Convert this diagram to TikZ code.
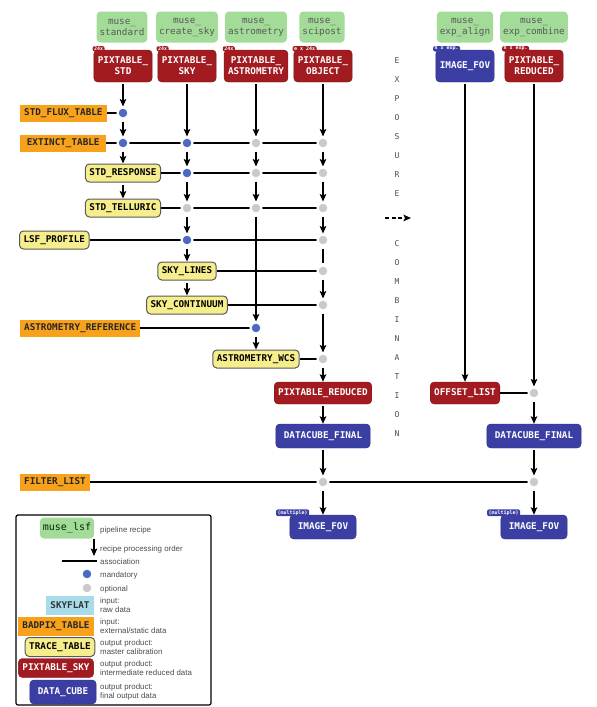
\documentclass[tikz,border=0pt]{standalone}
\usepackage{fontspec}
\setmainfont{Liberation Sans}
\setmonofont{DejaVu Sans Mono}
\usetikzlibrary{arrows.meta,backgrounds}

\begin{document}
\begin{tikzpicture}[x=1pt,y=-1pt,
  box/.style={rounded corners=4pt,font=\fontsize{9.3}{11}\selectfont\ttfamily\bfseries,align=center,inner xsep=4pt,inner ysep=2pt},
  recipe/.style={box,fill=recgreen,text=black!65,font=\fontsize{9.3}{11}\selectfont\ttfamily,inner xsep=3pt,minimum height=31pt},
  extin/.style={box,rounded corners=0pt,fill=extorange,text=black!85,minimum height=17pt},
  rawin/.style={box,rounded corners=0pt,fill=rawblue,text=black!80,minimum height=19pt},
  calib/.style={box,fill=calyellow,draw=black!65,line width=1pt,minimum height=18pt},
  interm/.style={box,fill=intred,draw=intred!75!black,text=white,minimum height=22pt},
  final/.style={box,fill=finblue,draw=finblue!75!black,text=white,inner xsep=8pt,minimum height=24pt},
  toprow/.style={minimum height=32pt,minimum width=58pt},
  tag/.style={rounded corners=2pt,font=\fontsize{5}{5}\selectfont\ttfamily\bfseries,text=white,inner xsep=1.5pt,inner ysep=0.8pt},
  mand/.style={circle,fill=dotblue,draw=white,line width=2pt,minimum size=11pt,inner sep=0pt},
  opt/.style={circle,fill=dotgray,draw=white,line width=2pt,minimum size=11pt,inner sep=0pt},
  flow/.style={line width=1.3pt,shorten <=2pt,-{Stealth[length=7.5pt,width=6.5pt,inset=1.5pt]}},
  assoc/.style={line width=1.3pt},
  letter/.style={font=\fontsize{8}{8}\selectfont\ttfamily,text=black!70},
  note/.style={font=\fontsize{7.9}{9}\selectfont,text=black!70,anchor=west,align=left,inner sep=0pt}]
  \definecolor{recgreen}{HTML}{A3DB98}
  \definecolor{intred}{HTML}{A11B20}
  \definecolor{finblue}{HTML}{3B3FA4}
  \definecolor{extorange}{HTML}{F8A21C}
  \definecolor{calyellow}{HTML}{F6EE8C}
  \definecolor{rawblue}{HTML}{A8DCEB}
  \definecolor{dotblue}{HTML}{4E69C2}
  \definecolor{dotgray}{HTML}{CACACA}
  \useasboundingbox (0,0) rectangle (597,707);

  % recipes
  \node[recipe] (rstd) at (122,27) {muse\_\\standard};
  \node[recipe] (rsky) at (187,27) {muse\_\\create\_sky};
  \node[recipe] (rastro) at (256,27) {muse\_\\astrometry};
  \node[recipe] (rsci) at (322,27) {muse\_\\scipost};
  \node[recipe] (ralign) at (465,27) {muse\_\\exp\_align};
  \node[recipe] (rcomb) at (534,27) {muse\_\\exp\_combine};

  % pixel tables going in
  \node[interm,toprow] (pstd) at (123,66) {PIXTABLE\_\\STD};
  \node[interm,toprow] (psky) at (187,66) {PIXTABLE\_\\SKY};
  \node[interm,toprow] (pastro) at (256,66) {PIXTABLE\_\\ASTROMETRY};
  \node[interm,toprow] (pobj) at (323,66) {PIXTABLE\_\\OBJECT};
  \node[final,toprow,inner xsep=4pt] (pfov) at (465,66) {IMAGE\_FOV};
  \node[interm,toprow] (pred) at (534,66) {PIXTABLE\_\\REDUCED};
  \node[tag,fill=intred] (tstd) at ([shift={(5,-1)}]pstd.north west) {24x};
  \node[tag,fill=intred] (tsky) at ([shift={(5,-1)}]psky.north west) {24x};
  \node[tag,fill=intred] (tastro) at ([shift={(5,-1)}]pastro.north west) {24x};
  \node[tag,fill=intred] (tobj) at ([shift={(11,-1)}]pobj.north west) {e x 24x};
  \node[tag,fill=finblue] (tfov) at ([shift={(11,-1)}]pfov.north west) {n x exp.};
  \node[tag,fill=intred] (tred) at ([shift={(11,-1)}]pred.north west) {n x exp.};

  % calibrations and inputs
  \node[extin,anchor=west,minimum width=86pt] (fluxtab) at (20,113) {STD\_FLUX\_TABLE};
  \node[extin,anchor=west,minimum width=86pt] (extinct) at (20,143) {EXTINCT\_TABLE};
  \node[calib] (response) at (123,173) {STD\_RESPONSE};
  \node[calib,minimum width=75pt] (telluric) at (123,208) {STD\_TELLURIC};
  \node[calib,anchor=west] (lsf) at (19,240) {LSF\_PROFILE};
  \node[calib] (skylines) at (187,271) {SKY\_LINES};
  \node[calib] (skycont) at (187,305) {SKY\_CONTINUUM};
  \node[extin,anchor=west] (astref) at (20,328) {ASTROMETRY\_REFERENCE};
  \node[calib] (wcs) at (256,359) {ASTROMETRY\_WCS};
  \node[interm] (pixred) at (323,393) {PIXTABLE\_REDUCED};
  \node[final] (cube) at (323,436) {DATACUBE\_FINAL};
  \node[extin,anchor=west] (filter) at (20,482) {FILTER\_LIST};
  \node[final] (fov) at (323,527) {IMAGE\_FOV};
  \node[tag,fill=finblue] (tfov2) at ([shift={(3,-2)}]fov.north west) {(multiple)};
  \node[interm] (offset) at (465,393) {OFFSET\_LIST};
  \node[final] (cube2) at (534,436) {DATACUBE\_FINAL};
  \node[final] (fov2) at (534,527) {IMAGE\_FOV};
  \node[tag,fill=finblue] (tfov3) at ([shift={(3,-2)}]fov2.north west) {(multiple)};

  % association points
  \node[mand] (d1a) at (123,113) {};
  \node[mand] (d1b) at (123,143) {};
  \node[mand] (d2b) at (187,143) {};
  \node[mand] (d2c) at (187,173) {};
  \node[opt] (d2d) at (187,208) {};
  \node[mand] (d2e) at (187,240) {};
  \node[opt] (d3b) at (256,143) {};
  \node[opt] (d3c) at (256,173) {};
  \node[opt] (d3d) at (256,208) {};
  \node[mand] (d3g) at (256,328) {};
  \node[opt] (d4b) at (323,143) {};
  \node[opt] (d4c) at (323,173) {};
  \node[opt] (d4d) at (323,208) {};
  \node[opt] (d4e) at (323,240) {};
  \node[opt] (d4f) at (323,271) {};
  \node[opt] (d4g) at (323,305) {};
  \node[opt] (d4h) at (323,359) {};
  \node[opt] (d4i) at (323,482) {};
  \node[opt] (d6a) at (534,393) {};
  \node[opt] (d6b) at (534,482) {};

  % exposure combination
  \foreach \ch [count=\i] in {E,X,P,O,S,U,R,E}
    \node[letter] (ea\i) at (397,41+19.1*\i) {\ch};
  \foreach \ch [count=\i] in {C,O,M,B,I,N,A,T,I,O,N}
    \node[letter] (eb\i) at (397,225+19*\i) {\ch};
  \coordinate (dashs) at (385,218);
  \coordinate (dashe) at (411,218);
  \draw[flow,shorten <=0pt,line width=1.6pt,dash pattern=on 4pt off 2.5pt] (dashs) -- (dashe);

  \begin{pgfonlayer}{background}
    % processing order
    \draw[flow] (pstd) -- (d1a);
    \draw[flow] (d1a) -- (d1b);
    \draw[flow] (d1b) -- (response);
    \draw[flow] (response) -- (telluric);
    \draw[flow] (psky) -- (d2b);
    \draw[flow] (d2b) -- (d2c);
    \draw[flow] (d2c) -- (d2d);
    \draw[flow] (d2d) -- (d2e);
    \draw[flow] (d2e) -- (skylines);
    \draw[flow] (skylines) -- (skycont);
    \draw[flow] (pastro) -- (d3b);
    \draw[flow] (d3b) -- (d3c);
    \draw[flow] (d3c) -- (d3d);
    \draw[flow] (d3d) -- (d3g);
    \draw[flow] (d3g) -- (wcs);
    \draw[flow] (pobj) -- (d4b);
    \draw[flow] (d4b) -- (d4c);
    \draw[flow] (d4c) -- (d4d);
    \draw[flow] (d4d) -- (d4e);
    \draw[assoc,shorten <=2pt,shorten >=2pt] (d4e) -- (d4f);
    \draw[flow] (d4f) -- (d4g);
    \draw[flow] (d4g) -- (d4h);
    \draw[flow] (d4h) -- (pixred);
    \draw[flow] (pixred) -- (cube);
    \draw[flow] (cube) -- (d4i);
    \draw[flow] (d4i) -- (fov);
    \draw[flow] (pfov) -- (offset);
    \draw[flow] (pred) -- (d6a);
    \draw[flow] (d6a) -- (cube2);
    \draw[flow] (cube2) -- (d6b);
    \draw[flow] (d6b) -- (fov2);
    % associations
    \draw[assoc] (fluxtab) -- (d1a);
    \draw[assoc] (extinct) -- (d4b);
    \draw[assoc] (response) -- (d4c);
    \draw[assoc] (telluric) -- (d4d);
    \draw[assoc] (lsf) -- (d4e);
    \draw[assoc] (skylines) -- (d4f);
    \draw[assoc] (skycont) -- (d4g);
    \draw[assoc] (astref) -- (d3g);
    \draw[assoc] (wcs) -- (d4h);
    \draw[assoc] (offset) -- (d6a);
    \draw[assoc] (filter) -- (d6b);
  \end{pgfonlayer}

  % legend
  \draw[line width=1.2pt,rounded corners=2pt] (16,515) rectangle (211,705);
  \node[recipe,minimum height=21pt,font=\fontsize{10}{11}\selectfont\ttfamily,text=black!60!green!40!black] (lrec) at (67,528) {muse\_lsf};
  \node[note] (lrect) at (100,530) {pipeline recipe};
  \coordinate (lega) at (94,539);
  \coordinate (legb) at (94,556);
  \draw[flow,shorten <=0pt] (lega) -- (legb);
  \node[note] (lflowt) at (100,549) {recipe processing order};
  \coordinate (legc) at (62,561);
  \coordinate (legd) at (97,561);
  \draw[assoc] (legc) -- (legd);
  \node[note] (lassoct) at (100,562) {association};
  \node[mand] (lmand) at (87,574) {};
  \node[note] (lmandt) at (100,575) {mandatory};
  \node[opt] (lopt) at (87,588) {};
  \node[note] (loptt) at (100,589) {optional};
  \node[rawin] (lraw) at (70,605.5) {SKYFLAT};
  \node[note] (lrawt) at (100,605) {input:\\raw data};
  \node[extin,minimum height=19pt] (lext) at (56,626) {BADPIX\_TABLE};
  \node[note] (lextt) at (100,626) {input:\\external/static data};
  \node[calib,minimum height=19pt] (lcal) at (60,647) {TRACE\_TABLE};
  \node[note] (lcalt) at (100,647) {output product:\\master calibration};
  \node[interm,minimum height=19pt] (lint) at (56,668) {PIXTABLE\_SKY};
  \node[note] (lintt) at (100,668) {output product:\\intermediate reduced data};
  \node[final] (lfin) at (63,692) {DATA\_CUBE};
  \node[note] (lfint) at (100,692) {output product:\\final output data};
\end{tikzpicture}
\end{document}
